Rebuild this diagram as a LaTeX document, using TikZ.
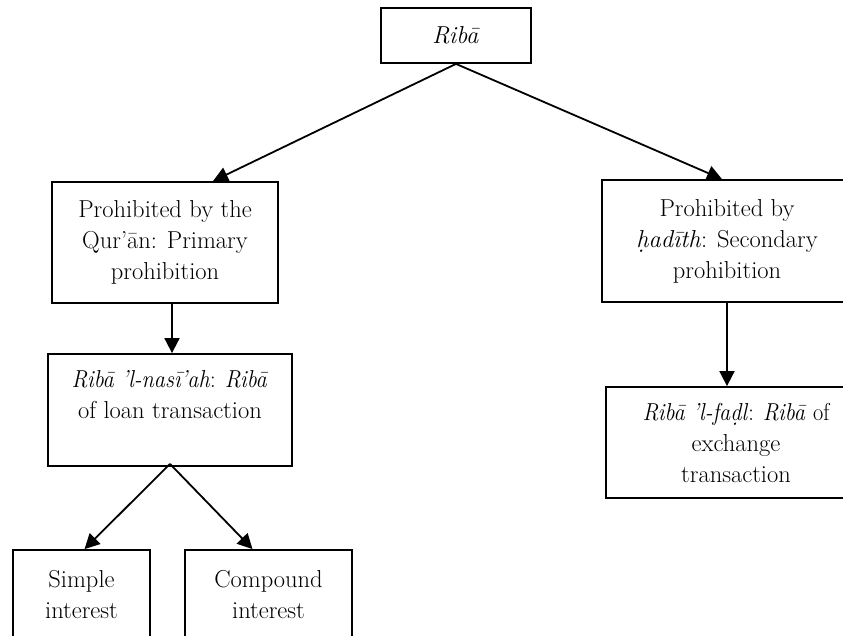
\documentclass[tikz,border=0pt]{standalone}
\usepackage{graphicx}
\usetikzlibrary{arrows.meta,calc}
\tikzset{
  box/.style={draw, line width=1.8pt, rectangle, align=center, inner sep=0pt,
    font=\fontsize{24.5}{31}\selectfont},
  link/.style={line width=1.8pt, -{Triangle[length=15pt,width=15pt]}}
}
% narrower setting for the long italic transliteration lines
\newcommand\narrowline[1]{\scalebox{0.91}[1]{#1}}
\begin{document}
\begin{tikzpicture}[x=1pt,y=-1pt]
\useasboundingbox (0,0) rectangle (843,635);
\clip (0,0) rectangle (843,635);
% boxes of the classification tree
\node[box, minimum width=150, minimum height=55] (R) at (456,35.5) {\textit{Ribā}};
\node[box, minimum width=226, minimum height=121] (Q) at (165,242.5)
  {Prohibited by the\\Qur’ān: Primary\\prohibition};
\node[box, minimum width=250, minimum height=122] (H) at (727,241)
  {Prohibited by\\\textit{ḥadīth}: Secondary\\prohibition};
\node[box, minimum width=244, minimum height=112] (N) at (170,410)
  {\narrowline{\textit{Ribā ’l-nasī’ah}: \textit{Ribā}}\\of loan transaction\\\mbox{}};
\node[box, minimum width=260, minimum height=111] (F) at (736,442.5)
  {\narrowline{\textit{Ribā ’l-faḍl}: \textit{Ribā} of}\\exchange\\transaction};
\node[box, minimum width=137, minimum height=90] (S) at (81.5,595)
  {Simple\\interest};
\node[box, minimum width=167, minimum height=90] (C) at (268.5,595)
  {Compound\\interest};
% connectors
\draw[link] (R.south) -- ([xshift=48pt]Q.north);
\draw[link] (R.south) -- ([xshift=-5pt]H.north);
\draw[link] ([xshift=7pt]Q.south) -- ([xshift=7pt]Q.south |- N.north);
\draw[link] (H.south) -- (H.south |- F.north);
\draw[link] ([yshift=3pt]N.south) -- ([xshift=3pt]S.north);
\draw[link] ([yshift=3pt]N.south) -- ([xshift=-16pt]C.north);
\end{tikzpicture}
\end{document}
